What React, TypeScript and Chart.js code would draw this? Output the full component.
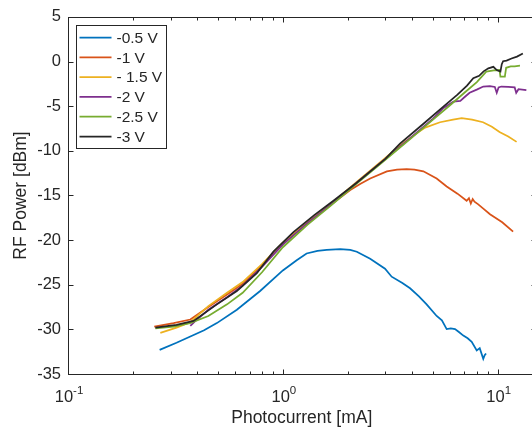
import React, { useEffect, useRef } from 'react';
import { Chart, registerables } from 'chart.js';
Chart.register(...registerables);

const seriesLabels = ['-0.5 V', '-1 V', '- 1.5 V', '-2 V', '-2.5 V', '-3 V'];
const seriesColors = ['#0072BD', '#D95319', '#EDB120', '#7E2F8E', '#77AC30', '#262626'];

const v05x = [0.267, 0.32, 0.371, 0.43, 0.493, 0.611, 0.784, 1.0, 1.16, 1.29, 1.45, 1.6, 1.85, 2.06, 2.21, 2.55, 2.99, 3.21, 3.6, 3.91, 4.3, 4.67, 5.2, 5.5, 5.79, 6.05, 6.33, 6.6, 6.92, 7.25, 7.57, 7.99, 8.25, 8.57, 8.7, 8.83];
const v05y = [-32.3, -31.5, -30.8, -30.1, -29.3, -27.8, -25.7, -23.4, -22.25, -21.5, -21.2, -21.1, -21.0, -21.1, -21.3, -22.1, -23.2, -24.1, -24.8, -25.4, -26.3, -27.2, -28.5, -29.0, -29.97, -29.9, -29.97, -30.3, -30.7, -31.0, -31.4, -32.35, -32.1, -33.3, -32.9, -32.7];

const v10x = [0.252, 0.31, 0.371, 0.45, 0.55, 0.65, 0.8, 1.0, 1.3, 1.7, 2.06, 2.3, 2.55, 3.05, 3.4, 3.77, 4.1, 4.51, 5.2, 5.79, 6.5, 7.17, 7.35, 7.5, 7.65, 7.8, 8.12, 8.6, 9.21, 10.5, 11.8];
const v10y = [-29.7, -29.3, -28.9, -27.5, -26.1, -24.9, -22.8, -20.4, -18.1, -15.9, -14.4, -13.7, -13.1, -12.3, -12.1, -12.05, -12.1, -12.3, -13.1, -14.0, -14.8, -15.6, -15.3, -15.9, -15.4, -15.7, -16.0, -16.5, -17.1, -18.0, -19.06];

const v15x = [0.269, 0.32, 0.371, 0.45, 0.55, 0.65, 0.8, 1.0, 1.3, 1.7, 2.2, 3.0, 3.5, 4.05, 4.6, 5.39, 6.2, 6.8, 7.6, 8.55, 9.4, 10.2, 11.2, 12.25];
const v15y = [-30.4, -29.8, -29.2, -27.4, -25.9, -24.7, -22.7, -20.3, -18.0, -15.8, -13.5, -10.8, -9.4, -8.3, -7.4, -6.8, -6.5, -6.35, -6.5, -6.8, -7.3, -7.9, -8.4, -9.0];

const v20x = [0.371, 0.39, 0.45, 0.55, 0.65, 0.8, 1.0, 1.3, 1.7, 2.2, 3.0, 4.0, 5.0, 5.6, 6.22, 6.7, 7.0, 7.4, 7.99, 8.57, 9.2, 9.7, 9.9, 10.1, 10.4, 11.2, 12.0, 12.2, 12.5, 13.6];
const v20y = [-29.6, -29.1, -27.8, -26.4, -25.1, -23.0, -20.5, -18.1, -15.9, -13.6, -10.9, -8.4, -6.4, -5.2, -4.5, -4.4, -4.0, -3.5, -3.15, -2.8, -2.75, -2.85, -3.5, -2.9, -2.8, -2.85, -2.9, -3.5, -3.1, -3.2];

const v25x = [0.255, 0.31, 0.37, 0.45, 0.55, 0.65, 0.8, 1.0, 1.3, 1.7, 2.2, 3.0, 4.0, 5.0, 6.0, 7.0, 8.0, 8.85, 9.6, 10.2, 10.3, 10.8, 10.95, 11.5, 12.0, 12.7];
const v25y = [-29.9, -29.7, -29.3, -28.5, -27.2, -25.9, -23.6, -20.8, -18.3, -16.0, -13.7, -11.0, -8.5, -6.5, -4.9, -3.5, -2.3, -1.13, -1.0, -0.95, -1.7, -1.7, -0.7, -0.55, -0.55, -0.47];

const v30x = [0.255, 0.32, 0.384, 0.493, 0.611, 0.757, 0.904, 1.12, 1.4, 1.72, 2.2, 3.0, 3.51, 4.5, 5.5, 6.5, 7.2, 7.7, 8.2, 8.6, 9.05, 9.55, 9.9, 10.3, 10.45, 10.6, 11.0, 11.6, 12.3, 13.1];
const v30y = [-29.8, -29.5, -29.05, -27.2, -25.7, -23.7, -21.3, -19.1, -17.2, -15.6, -13.6, -10.9, -9.2, -7.0, -5.2, -3.7, -2.7, -1.87, -1.6, -1.1, -0.76, -0.59, -0.95, -1.13, -0.3, 0.04, 0.1, 0.34, 0.55, 0.89];

const seriesX = [v05x, v10x, v15x, v20x, v25x, v30x];
const seriesY = [v05y, v10y, v15y, v20y, v25y, v30y];

const xMin = 0.1;
const xMax = 15;
const yMin = -35;
const yMax = 5;
const xTickValues = [0.1, 1, 10];
const xTickBases = ['10', '10', '10'];
const xTickExponents = ['-1', '0', '1'];
const xMinorTicks = [0.2, 0.3, 0.4, 0.5, 0.6, 0.7, 0.8, 0.9, 2, 3, 4, 5, 6, 7, 8, 9];
const yTickValues = [-35, -30, -25, -20, -15, -10, -5, 0, 5];

const FONT = '"Liberation Sans", Arial, Helvetica, sans-serif';
const AXIS_COLOR = '#262626';

const framePlugin = {
  id: 'frame',
  afterDraw(chart: any) {
    const { ctx, chartArea: a, scales } = chart;
    ctx.save();
    ctx.strokeStyle = AXIS_COLOR;
    ctx.lineWidth = 1;
    const L = Math.round(a.left) + 0.5;
    const R = Math.round(a.right) + 0.5;
    const T = Math.round(a.top) + 0.5;
    const B = Math.round(a.bottom) + 0.5;
    ctx.strokeRect(L, T, R - L, B - T);
    ctx.beginPath();
    yTickValues.forEach((v) => {
      const py = Math.round(scales.y.getPixelForValue(v)) + 0.5;
      ctx.moveTo(L, py); ctx.lineTo(L + 5, py);
      ctx.moveTo(R, py); ctx.lineTo(R - 5, py);
    });
    xTickValues.forEach((v) => {
      const px = Math.round(scales.x.getPixelForValue(v)) + 0.5;
      ctx.moveTo(px, B); ctx.lineTo(px, B - 5);
      ctx.moveTo(px, T); ctx.lineTo(px, T + 5);
    });
    xMinorTicks.forEach((v) => {
      const px = Math.round(scales.x.getPixelForValue(v)) + 0.5;
      ctx.moveTo(px, B); ctx.lineTo(px, B - 3);
      ctx.moveTo(px, T); ctx.lineTo(px, T + 3);
    });
    ctx.stroke();

    // x tick labels with superscript exponents
    ctx.fillStyle = AXIS_COLOR;
    ctx.textBaseline = 'alphabetic';
    ctx.textAlign = 'left';
    xTickValues.forEach((v, i) => {
      const px = scales.x.getPixelForValue(v);
      ctx.font = `16.5px ${FONT}`;
      const wb = ctx.measureText(xTickBases[i]).width;
      ctx.font = `11.5px ${FONT}`;
      const we = ctx.measureText(xTickExponents[i]).width;
      const start = px - (wb + we) / 2 + 1;
      ctx.font = `16.5px ${FONT}`;
      ctx.fillText(xTickBases[i], start, B + 27.5);
      ctx.font = `11.5px ${FONT}`;
      ctx.fillText(xTickExponents[i], start + wb, B + 19);
    });

    // legend
    const bx = L + 8;
    const by = T + 8;
    const bw = 90;
    const bh = 123;
    ctx.fillStyle = '#ffffff';
    ctx.fillRect(bx, by, bw, bh);
    ctx.strokeStyle = AXIS_COLOR;
    ctx.lineWidth = 1;
    ctx.strokeRect(bx, by, bw, bh);
    ctx.font = `15.5px ${FONT}`;
    ctx.textBaseline = 'middle';
    ctx.textAlign = 'left';
    chart.data.datasets.forEach((ds: any, i: number) => {
      const ry = by + 12 + i * 19.8;
      ctx.strokeStyle = ds.borderColor;
      ctx.lineWidth = 1.75;
      ctx.beginPath();
      ctx.moveTo(bx + 3, ry);
      ctx.lineTo(bx + 35, ry);
      ctx.stroke();
      ctx.fillStyle = AXIS_COLOR;
      ctx.fillText(ds.label, bx + 40, ry + 1);
    });
    ctx.restore();
  },
};

export default function App() {
  const canvasRef = useRef<HTMLCanvasElement | null>(null);

  useEffect(() => {
    const canvas = canvasRef.current;
    if (!canvas) return;
    const datasets = seriesLabels.map((label, i) => ({
      label,
      data: seriesX[i].map((x, j) => ({ x, y: seriesY[i][j] })),
      borderColor: seriesColors[i],
      backgroundColor: seriesColors[i],
      borderWidth: 1.75,
      pointRadius: 0,
      fill: false,
      tension: 0,
      order: seriesLabels.length - i,
    }));
    const chart = new Chart(canvas, {
      type: 'line',
      data: { datasets },
      options: {
        responsive: false,
        animation: false,
        devicePixelRatio: 1,
        layout: { padding: { top: 11, right: 4.5, left: 0, bottom: 0 } },
        plugins: { legend: { display: false }, tooltip: { enabled: false } },
        scales: {
          x: {
            type: 'logarithmic',
            min: xMin,
            max: xMax,
            grid: { display: false, drawTicks: false },
            border: { display: false },
            afterBuildTicks: (scale: any) => {
              scale.ticks = xTickValues.map((v) => ({ value: v }));
            },
            afterFit: (scale: any) => { scale.height = 60; },
            ticks: { display: false },
            title: {
              display: true,
              text: 'Photocurrent [mA]',
              color: AXIS_COLOR,
              font: { family: FONT, size: 17.5 },
              padding: { top: 0, bottom: 5 },
            },
          },
          y: {
            type: 'linear',
            min: yMin,
            max: yMax,
            grid: { display: false, drawTicks: false },
            border: { display: false },
            afterBuildTicks: (scale: any) => {
              scale.ticks = yTickValues.map((v) => ({ value: v }));
            },
            afterFit: (scale: any) => { scale.width = 68; },
            ticks: {
              padding: 7,
              color: AXIS_COLOR,
              font: { family: FONT, size: 16.5 },
            },
            title: {
              display: true,
              text: 'RF Power [dBm]',
              color: AXIS_COLOR,
              font: { family: FONT, size: 17.5 },
              padding: { top: 11, bottom: 0 },
            },
          },
        },
      },
      plugins: [framePlugin],
    } as any);
    return () => chart.destroy();
  }, []);

  return (
    <div style={{ position: 'fixed', left: 0, top: 0, width: 532, height: 434, overflow: 'hidden', background: '#fff' }}>
      <canvas ref={canvasRef} width={540} height={434} style={{ display: 'block', width: 540, height: 434 }} />
    </div>
  );
}
